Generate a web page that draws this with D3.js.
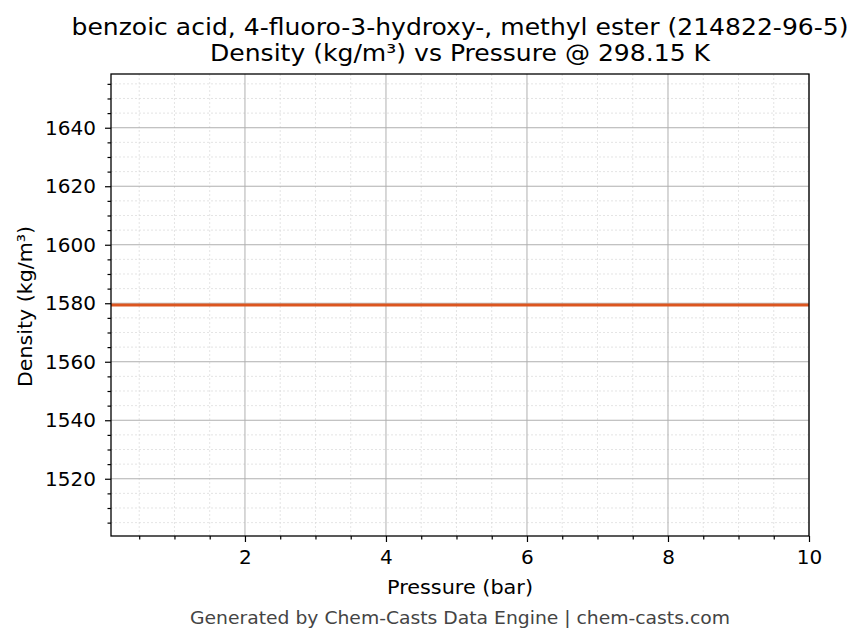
<!DOCTYPE html>
<html>
<head>
<meta charset="utf-8">
<script src="https://cdn.jsdelivr.net/npm/d3@7"></script>
<style>
  body { margin: 0; background: #fff; }
  text { font-family: 'DejaVu Sans', sans-serif; }
</style>
</head>
<body>
<script>
var width = 863;
var height = 644;

// Data.
var pressures = [0.1, 1, 2, 3, 4, 5, 6, 7, 8, 9, 10];
var densities = [1579.4, 1579.4, 1579.4, 1579.4, 1579.4, 1579.4, 1579.4, 1579.4, 1579.4, 1579.4, 1579.4];
var xTicks = [2, 4, 6, 8, 10];
var yTicks = [1520, 1540, 1560, 1580, 1600, 1620, 1640];
var titleLines = ['benzoic acid, 4-fluoro-3-hydroxy-, methyl ester (214822-96-5)',
  'Density (kg/m\u00b3) vs Pressure @ 298.15 K'];
var titleWidths = [777, 500];

var margin = {left: 111, right: 863 - 809, top: 74, bottom: 644 - 536};
var plotW = width - margin.left - margin.right;
var plotH = height - margin.top - margin.bottom;

var svg = d3.select('body')
  .append('svg')
  .attr('width', width)
  .attr('height', height);

var x = d3.scaleLinear().domain([0.1, 10]).range([0, plotW]);
var yMid = densities[0];
var y = d3.scaleLinear().domain([yMid * 0.95, yMid * 1.05]).range([plotH, 0]);

// Minor tick positions.
var xMinor = d3.range(0.5, 10.01, 0.5).filter(function(d) { return xTicks.indexOf(d) < 0; });
var yMinor = d3.range(1505, 1660, 5).filter(function(d) { return d % 20 !== 0; });

var g = svg.append('g').attr('transform', 'translate(' + margin.left + ',' + margin.top + ')');

// Minor grid.
g.append('g').selectAll('line').data(xMinor).enter().append('line')
  .attr('x1', function(d) { return x(d); }).attr('x2', function(d) { return x(d); })
  .attr('y1', 0).attr('y2', plotH)
  .attr('stroke', '#d8d8d8').attr('stroke-width', 0.7).attr('stroke-dasharray', '2,2');
g.append('g').selectAll('line').data(yMinor).enter().append('line')
  .attr('y1', function(d) { return y(d); }).attr('y2', function(d) { return y(d); })
  .attr('x1', 0).attr('x2', plotW)
  .attr('stroke', '#d8d8d8').attr('stroke-width', 0.7).attr('stroke-dasharray', '2,2');

// Major grid.
g.append('g').selectAll('line').data(xTicks).enter().append('line')
  .attr('x1', function(d) { return x(d); }).attr('x2', function(d) { return x(d); })
  .attr('y1', 0).attr('y2', plotH)
  .attr('stroke', '#b0b0b0').attr('stroke-width', 1);
g.append('g').selectAll('line').data(yTicks).enter().append('line')
  .attr('y1', function(d) { return y(d); }).attr('y2', function(d) { return y(d); })
  .attr('x1', 0).attr('x2', plotW)
  .attr('stroke', '#b0b0b0').attr('stroke-width', 1);

// Data line.
var line = d3.line()
  .x(function(d, i) { return x(pressures[i]); })
  .y(function(d) { return y(d); });
g.append('path')
  .datum(densities)
  .attr('d', line)
  .attr('fill', 'none')
  .attr('stroke', '#dc5620')
  .attr('stroke-width', 3.2);

// Axes.
var xAxis = g.append('g').attr('transform', 'translate(0,' + plotH + ')')
  .call(d3.axisBottom(x).tickValues(xTicks).tickSize(6).tickPadding(8).tickFormat(d3.format('d')));
var xAxisMinor = g.append('g').attr('transform', 'translate(0,' + plotH + ')')
  .call(d3.axisBottom(x).tickValues(xMinor).tickSize(3.5).tickFormat(''));
var yAxis = g.append('g')
  .call(d3.axisLeft(y).tickValues(yTicks).tickSize(6).tickPadding(9).tickFormat(d3.format('d')));
var yAxisMinor = g.append('g')
  .call(d3.axisLeft(y).tickValues(yMinor).tickSize(3.5).tickFormat(''));

[xAxis, xAxisMinor, yAxis, yAxisMinor].forEach(function(a) {
  a.select('.domain').remove();
  a.selectAll('line').attr('stroke', '#000').attr('stroke-width', 1.2);
  a.selectAll('text').attr('font-size', 20).attr('fill', '#000');
});

// Frame.
g.append('rect')
  .attr('width', plotW).attr('height', plotH)
  .attr('fill', 'none').attr('stroke', '#000').attr('stroke-width', 1.3);

// Titles.
svg.append('g').selectAll('text').data(titleLines).enter().append('text')
  .attr('x', margin.left + plotW / 2)
  .attr('y', function(d, i) { return 35 + i * 26; })
  .attr('text-anchor', 'middle')
  .attr('font-size', 23.5)
  .attr('textLength', function(d, i) { return titleWidths[i]; })
  .attr('lengthAdjust', 'spacingAndGlyphs')
  .text(function(d) { return d; });

svg.append('text')
  .attr('x', margin.left + plotW / 2).attr('y', 594)
  .attr('text-anchor', 'middle').attr('font-size', 20)
  .attr('textLength', 146).attr('lengthAdjust', 'spacingAndGlyphs')
  .text('Pressure (bar)');

svg.append('text')
  .attr('transform', 'translate(32,' + 306.5 + ') rotate(-90)')
  .attr('text-anchor', 'middle').attr('font-size', 20)
  .attr('textLength', 161).attr('lengthAdjust', 'spacingAndGlyphs')
  .text('Density (kg/m\u00b3)');

svg.append('text')
  .attr('x', margin.left + plotW / 2).attr('y', 624)
  .attr('text-anchor', 'middle').attr('font-size', 18)
  .attr('textLength', 540).attr('lengthAdjust', 'spacingAndGlyphs')
  .attr('fill', '#444')
  .text('Generated by Chem-Casts Data Engine | chem-casts.com');
</script>
</body>
</html>
